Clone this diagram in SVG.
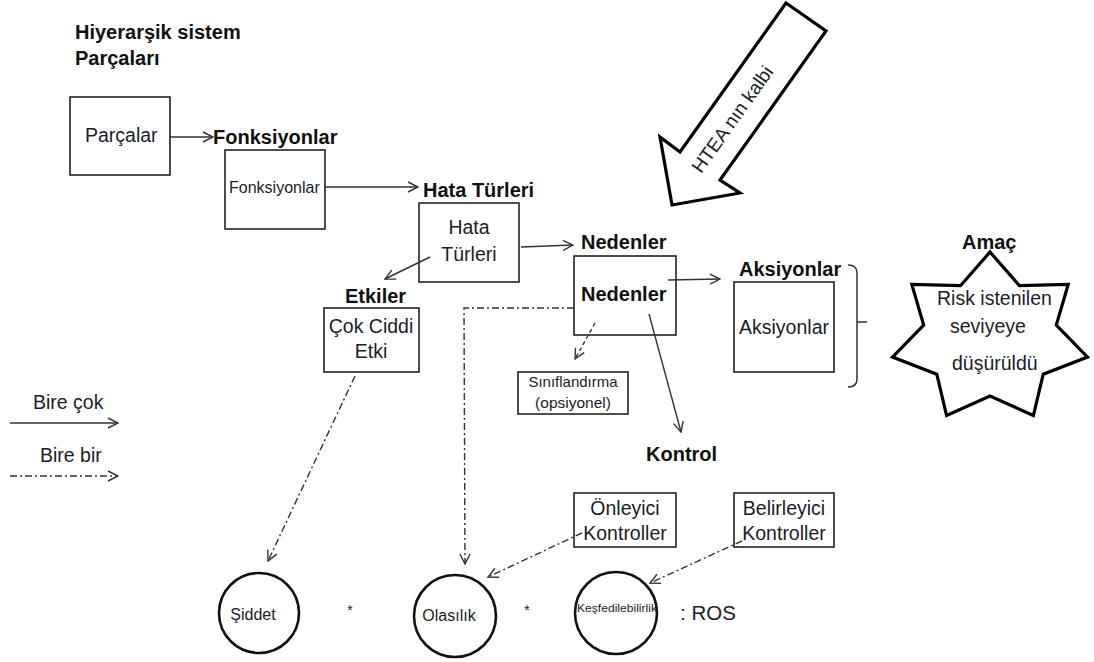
<svg xmlns="http://www.w3.org/2000/svg" width="1094" height="662" viewBox="0 0 1094 662">
<style>
  text { font-family: "Liberation Sans", Arial, sans-serif; fill: #1c1c28; }
  .b { font-weight: bold; font-size: 20px; fill: #111; }
  .t { font-size: 19.5px; }
  .s { font-size: 16px; }
  .box { fill: #fff; stroke: #222; stroke-width: 1.6; }
  .circ { fill: #fff; stroke: #111; stroke-width: 2.6; }
  .con { fill: none; stroke: #333; stroke-width: 1.4; }
  .dd { stroke-dasharray: 7 3 2 3; }
  .dash { stroke-dasharray: 4 3; }
  .mid { text-anchor: middle; }
</style>
<defs>
  <marker id="ah" viewBox="0 0 12 12" refX="11" refY="6" markerWidth="12" markerHeight="12" markerUnits="userSpaceOnUse" orient="auto">
    <path d="M1,1 L11,6 L1,11" fill="none" stroke="#333" stroke-width="1.4"/>
  </marker>
</defs>
<rect width="1094" height="662" fill="#fff"/>

<g id="title">
  <text class="b" x="75" y="39">Hiyerarşik sistem</text>
  <text class="b" x="75" y="65">Parçaları</text>
</g>

<g id="parcalar">
  <rect class="box" x="70" y="97" width="100" height="78"/>
  <text class="t" x="85" y="142">Parçalar</text>
</g>

<g id="fonksiyonlar">
  <text class="b" x="213" y="144">Fonksiyonlar</text>
  <rect class="box" x="225" y="150" width="100" height="79"/>
  <text class="s" x="229" y="193">Fonksiyonlar</text>
</g>

<g id="hata">
  <text class="b" x="423" y="197">Hata Türleri</text>
  <rect class="box" x="419" y="203" width="100" height="79"/>
  <text class="t mid" x="469" y="234">Hata</text>
  <text class="t mid" x="469" y="261">Türleri</text>
</g>

<g id="etkiler">
  <text class="b" x="345" y="303">Etkiler</text>
  <rect class="box" x="324" y="308" width="95" height="64"/>
  <text class="t mid" x="371" y="333">Çok Ciddi</text>
  <text class="t mid" x="371" y="358">Etki</text>
</g>

<g id="nedenler">
  <text class="b" x="581" y="249">Nedenler</text>
  <rect class="box" x="574" y="256" width="102" height="79"/>
  <text class="b" x="581" y="301">Nedenler</text>
</g>

<g id="siniflandirma">
  <rect class="box" x="518" y="372" width="110" height="42"/>
  <text class="mid" x="573" y="387" font-size="15">Sınıflandırma</text>
  <text class="mid" x="573" y="408" font-size="15.5">(opsiyonel)</text>
</g>

<g id="aksiyonlar">
  <text class="b" x="739" y="276">Aksiyonlar</text>
  <rect class="box" x="734" y="282" width="100" height="90"/>
  <text class="t mid" x="784" y="334">Aksiyonlar</text>
  <path d="M848,265 Q857,265 857,273 V379 Q857,387 848,387 M857,322 H867" fill="none" stroke="#333" stroke-width="1.5"/>
</g>

<g id="amac">
  <polygon points="990,252 1019.5,285.7 1068.2,284.4 1056.3,325.1 1087.5,357.1 1043.2,374.2 1033.4,415.5 990,396 946.6,415.5 936.8,374.2 892.5,357.1 923.7,325.1 911.8,284.4 960.5,285.7" fill="#fff" stroke="#000" stroke-width="3.2" stroke-linejoin="miter"/>
  <text class="b" x="962" y="249">Amaç</text>
  <text class="t" x="937" y="305">Risk istenilen</text>
  <text class="t" x="950" y="333">seviyeye</text>
  <text class="t" x="952" y="370">düşürüldü</text>
</g>

<g id="htea">
  <polygon points="786,3 826,31 720,180 740,193 672,205 660,137 680,152" fill="#fff" stroke="#000" stroke-width="3.2" stroke-linejoin="miter"/>
  <text class="mid" x="732" y="119" font-size="19" transform="rotate(-54.6 732 119)" dy="7">HTEA nın kalbi</text>
</g>

<g id="kontrol">
  <text class="b" x="646" y="461">Kontrol</text>
</g>

<g id="onleyici">
  <rect class="box" x="574" y="493" width="102" height="54"/>
  <text class="t mid" x="625" y="515">Önleyici</text>
  <text class="t mid" x="625" y="540">Kontroller</text>
</g>

<g id="belirleyici">
  <rect class="box" x="734" y="493" width="100" height="54"/>
  <text class="t mid" x="784" y="515">Belirleyici</text>
  <text class="t mid" x="784" y="540">Kontroller</text>
</g>

<g id="siddet">
  <circle class="circ" cx="259" cy="613" r="40"/>
  <text class="s mid" x="253" y="620">Şiddet</text>
</g>

<g id="olasilik">
  <circle class="circ" cx="455" cy="616" r="41"/>
  <text class="s mid" x="449" y="621">Olasılık</text>
</g>

<g id="kesfedilebilirlik">
  <circle class="circ" cx="616" cy="613" r="41"/>
  <text x="577" y="612" font-size="11" textLength="80" lengthAdjust="spacingAndGlyphs">Keşfedilebilirlik</text>
</g>

<g id="formula">
  <text x="350" y="615" font-size="14" class="mid">*</text>
  <text x="527" y="615" font-size="14" class="mid">*</text>
  <text x="680" y="620" font-size="20.5">: ROS</text>
</g>

<g id="legend">
  <text class="t" x="33" y="409">Bire çok</text>
  <text class="t" x="40" y="462">Bire bir</text>
</g>

<g id="connectors">
  <line class="con" x1="170" y1="137" x2="213" y2="137" marker-end="url(#ah)"/>
  <line class="con" x1="325" y1="187" x2="418" y2="187" marker-end="url(#ah)"/>
  <line class="con" x1="521" y1="247" x2="573" y2="245" marker-end="url(#ah)"/>
  <line class="con" x1="430" y1="257" x2="385" y2="279" marker-end="url(#ah)"/>
  <line class="con" x1="668" y1="280" x2="720" y2="279" marker-end="url(#ah)"/>
  <line class="con" x1="649" y1="314" x2="681" y2="432" marker-end="url(#ah)"/>
  <line class="con dash" x1="595" y1="323" x2="575" y2="359" marker-end="url(#ah)"/>
  <line class="con dd" x1="355" y1="376" x2="268" y2="561" marker-end="url(#ah)"/>
  <polyline class="con dd" points="574,308 464,308 465,564" marker-end="url(#ah)"/>
  <line class="con dd" x1="582" y1="533" x2="488" y2="577" marker-end="url(#ah)"/>
  <line class="con dd" x1="742" y1="541" x2="650" y2="583" marker-end="url(#ah)"/>
  <line class="con" x1="10" y1="423" x2="118" y2="423" marker-end="url(#ah)"/>
  <line class="con dd" x1="10" y1="476" x2="118" y2="476" marker-end="url(#ah)"/>
</g>
</svg>
